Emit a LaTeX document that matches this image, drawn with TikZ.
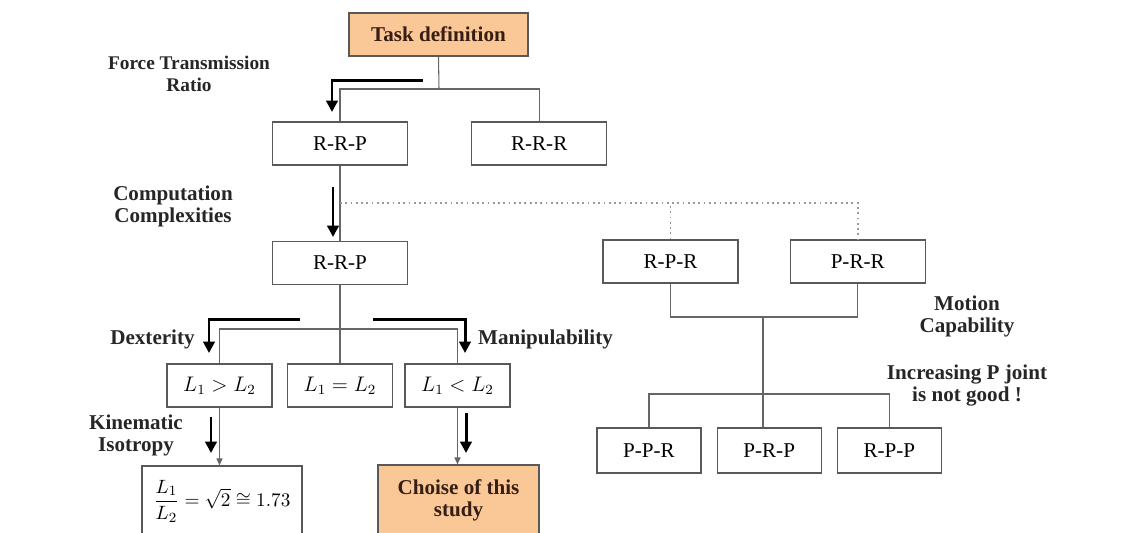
\documentclass[tikz,border=0pt]{standalone}
\usepackage{fontspec}
\setmainfont{Liberation Serif}
\usepackage{amsmath}
\usetikzlibrary{arrows.meta, positioning}
\definecolor{taskorange}{RGB}{250,199,150}
\definecolor{darkbrown}{RGB}{55,30,20}

\begin{document}
\begin{tikzpicture}[
    x=0.02cm, y=-0.02cm,
    node distance=0.3cm,
    box/.style={draw=black!65, line width=0.7pt, minimum width=2.7cm, minimum height=0.86cm, align=center, font=\fontsize{12}{14}\selectfont},
    lbox/.style={box, minimum width=2.1cm},
    sbox/.style={box, minimum width=2.08cm, minimum height=0.9cm},
    hot/.style={box, fill=taskorange, text=darkbrown, font=\fontsize{12}{12.5}\selectfont\bfseries},
    conn/.style={draw=black!60, line width=0.6pt},
    tip/.style={conn, -{Triangle[length=4pt,width=3.5pt]}},
    arrow/.style={-{Triangle[length=6.5pt,width=6.5pt]}, line width=1.7pt},
    dotline/.style={draw=black!40, line width=1pt, dotted},
    lbl/.style={font=\fontsize{12}{12.5}\selectfont\bfseries, align=center, text=black!85}
]
\useasboundingbox (0,0) rectangle (1145,532);

% --- top: task and first choice ---
\node[hot, minimum width=3.58cm] (task) at (438.5,34.5) {Task definition};
\node[box] (rrp1) at (340,143.5) {R-R-P};
\node[box, right=1.26cm of rrp1] (rrr) {R-R-R};
\node[box] (rrp2) at (340,263) {R-R-P};

\coordinate (j1) at (439,89);
\draw[conn] (task.south) -- (j1);
\draw[conn] (rrp1.north) |- (j1) -| (rrr.north);
\draw[conn] (rrp1) -- (rrp2);

% --- dotted branch to the other chains ---
\node[box] (rpr) at (670.5,261.5) {R-P-R};
\node[box, right=1.02cm of rpr] (prr) {P-R-R};
\coordinate (d0) at (340,203);
\draw[dotline] (d0) -| (prr.north);
\draw[dotline] (rpr.north) -- (rpr.north |- d0);

% --- link length cases ---
\node[lbox] (lgt) at (219.5,385.5) {$L_1 > L_2$};
\node[lbox] (leq) at (340,385.5) {$L_1 = L_2$};
\node[lbox] (llt) at (457.5,385.5) {$L_1 < L_2$};
\coordinate (j2) at (340,329);
\draw[conn] (rrp2.south) -- (j2);
\draw[conn] (lgt.north) |- (j2) -| (llt.north);
\draw[conn] (j2) -- (leq.north);

\node[box, minimum width=3.2cm, minimum height=1.4cm, font=\fontsize{11}{13}\selectfont] (ratio) at (222,501) {$\dfrac{L_1}{L_2} = \sqrt{2} \cong 1.73$};
\node[hot, minimum width=3.22cm, minimum height=1.4cm] (choise) at (458.5,500) {Choise of this\\study};
\draw[tip] (lgt.south) -- (lgt.south |- ratio.north);
\draw[tip] (llt.south) -- (llt.south |- choise.north);

% --- right side: more P joints ---
\node[sbox] (ppr) at (649,450.5) {P-P-R};
\node[sbox, right=of ppr] (prp) {P-R-P};
\node[sbox, right=of prp] (rpp) {R-P-P};
\coordinate (j3) at (763,317);
\coordinate (j4) at (763,394);
\draw[conn] (rpr.south) |- (j3) -| (prr.south);
\draw[conn] (j3) -- (j3 |- prp.north);
\draw[conn] (ppr.north) |- (j4) -| (rpp.north);

% --- criteria arrows ---
\coordinate (fa) at (423,80);   \coordinate (fb) at (332,112);
\coordinate (ca) at (333,187);  \coordinate (cb) at (333,237);
\coordinate (da) at (300,319);  \coordinate (db) at (209,353);
\coordinate (ma) at (373,319);  \coordinate (mb) at (465,353);
\coordinate (ka) at (211,417);  \coordinate (kb) at (211,453);
\coordinate (sa) at (466,413);  \coordinate (sb) at (466,453);
\draw[arrow] (fa) -| (fb);
\draw[arrow] (ca) -- (cb);
\draw[arrow] (da) -| (db);
\draw[arrow] (ma) -| (mb);
\draw[arrow] (ka) -- (kb);
\draw[arrow] (sa) -- (sb);

% labels
\node[lbl, font=\fontsize{11}{12.5}\selectfont\bfseries] (force) at (189,74) {Force Transmission\\Ratio};
\node[lbl] (compu) at (173,206.5) {Computation\\Complexities};
\node[lbl] (dext) at (152.5,339) {Dexterity};
\node[lbl] (manip) at (545.5,339) {Manipulability};
\node[lbl] (kine) at (136,435.5) {Kinematic\\Isotropy};
\node[lbl] (motion) at (967,316.5) {Motion\\Capability};
\node[lbl] (incr) at (967,385.5) {Increasing P joint\\is not good !};
\end{tikzpicture}
\end{document}
